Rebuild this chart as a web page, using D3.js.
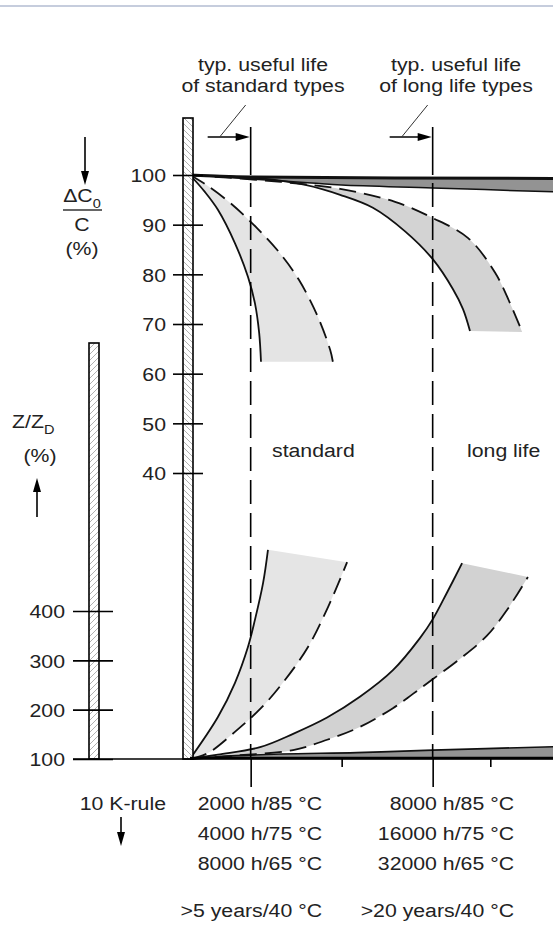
<!DOCTYPE html>
<html>
<head>
<meta charset="utf-8">
<script src="https://cdn.jsdelivr.net/npm/d3@7"></script>
<style>
  html, body { margin: 0; padding: 0; background: #fff; }
  svg { display: block; font-family: "Liberation Sans", Arial, sans-serif; }
</style>
</head>
<body>
<div id="chart"></div>
<script>
// time axis in 1000 h at 85 °C (10 K-rule)
const lifeMarks = [2, 8];        // typ. useful life: standard / long life
const minorTicks = [5, 9.9];

// capacitance change dC0/C in %
const capTicks = [100, 90, 80, 70, 60, 50, 40];
const capStdSolid  = [[0,100],[0.49,96.6],[0.92,93],[1.48,86.3],[1.91,79.5],[2.14,74.2],[2.28,68.2],[2.34,62.4]];
const capStdDashed = [[0,100],[0.49,98.2],[1.32,94.4],[2.21,89.3],[2.93,84.5],[3.59,78.9],[4.19,71.8],[4.62,64.8],[4.71,62.4]];
const capLongSolid  = [[0,100],[2.5,99.2],[3.8,98],[4.95,96],[6.03,93.4],[7.1,88.6],[8.01,83],[8.67,77],[9.0,73],[9.23,68.6]];
const capLongDashed = [[0,100],[3,98.6],[4.95,97.2],[6.76,94.6],[7.95,91.5],[9.17,87.3],[10.06,80.3],[10.55,74.2],[10.95,68.4]];
const capBandUpper = [[0,100],[2,99.6],[12,99.3]];
const capBandLower = [[0,100],[2,99.2],[4,98.4],[5,98],[8,97.4],[12,96.6]];

// impedance Z/Z0 in %
const zTicks = [100, 200, 300, 400];
const zStdSolid  = [[0,100],[0.92,185],[1.48,254],[1.91,327],[2.14,382],[2.41,457],[2.57,524]];
const zStdDashed = [[0,100],[0.59,112],[1.48,155],[2.37,205],[3.13,260],[3.89,327],[4.55,408],[5.18,499]];
const zLongSolid  = [[0,100],[0.92,109],[2.31,124],[3.4,151],[4.52,184],[5.6,226],[6.69,280],[7.58,345],[8.01,384],[8.47,437],[8.97,497]];
const zLongDashed = [[0,100],[1.5,107],[3.4,118],[4.52,139],[5.6,165],[6.69,203],[7.35,232],[8.01,262],[8.9,303],[9.79,350],[10.45,402],[11.14,469]];
const zBandUpper = [[0,100],[1,105],[3,110],[5.5,113],[8,118],[12,125]];
const zBandLower = [[0,100],[12,100]];

const bottomLeft  = ["2000 h/85 °C", "4000 h/75 °C", "8000 h/65 °C"];
const bottomRight = ["8000 h/85 °C", "16000 h/75 °C", "32000 h/65 °C"];
const yearsLabels = [">5 years/40 °C", ">20 years/40 °C"];

const width = 553, height = 933;
const SX = 1.12;      // the scan is a bit wider than the font
const FS = 19;
const ink = "#222";

const svg = d3.select("#chart").append("svg")
    .attr("width", width)
    .attr("height", height);

const x = d3.scaleLinear().domain([0, 12]).range([190, 554]);
const yC = d3.scaleLinear().domain([40, 100]).range([473, 175]);
const yZ = d3.scaleLinear().domain([100, 400]).range([759, 611]);

// hatching for the two scale bars
const defs = svg.append("defs");
function hatch(id, d) {
    defs.append("pattern")
        .attr("id", id)
        .attr("patternUnits", "userSpaceOnUse")
        .attr("width", 6).attr("height", 6)
        .append("path")
        .attr("d", d)
        .attr("stroke", "#a8a8a8")
        .attr("stroke-width", 0.9);
}
hatch("hatchBack", "M-1,-1L7,7M-1,5L1,7M5,-1L7,1");
hatch("hatchFwd", "M-1,7L7,-1M-1,1L1,-1M5,7L7,5");

function txt(g, px, py, s, anchor, size) {
    return g.append("text")
        .attr("transform", `translate(${px},${py}) scale(${SX},1)`)
        .attr("text-anchor", anchor || "start")
        .attr("font-size", size || FS)
        .attr("fill", ink)
        .text(s);
}

function arrow(g, x0, y0, x1, y1) {
    // line with a filled head at (x1, y1)
    const len = Math.hypot(x1 - x0, y1 - y0);
    const ux = (x1 - x0) / len, uy = (y1 - y0) / len;
    const hb = 14, hw = 4;
    g.append("line")
        .attr("x1", x0).attr("y1", y0)
        .attr("x2", x1 - ux * hb * 0.6).attr("y2", y1 - uy * hb * 0.6)
        .attr("stroke", "#000").attr("stroke-width", 1.6);
    const bx = x1 - ux * hb, by = y1 - uy * hb;
    g.append("polygon")
        .attr("points", [[x1, y1], [bx - uy * hw, by + ux * hw], [bx + uy * hw, by - ux * hw]].map(p => p.join(",")).join(" "))
        .attr("fill", "#000");
}

// frame line at the very top
svg.append("line")
    .attr("x1", 0).attr("x2", width).attr("y1", 6).attr("y2", 6)
    .attr("stroke", "#b3bdd2").attr("stroke-width", 1.5);

const smooth = d3.curveCatmullRom.alpha(0.5);
const lineC = d3.line().x(d => x(d[0])).y(d => yC(d[1])).curve(smooth);
const lineZ = d3.line().x(d => x(d[0])).y(d => yZ(d[1])).curve(smooth);

const shadeG = svg.append("g");
const curveG = svg.append("g");

// sample a drawn path, so two curves can close a shaded region
function samplePath(d) {
    const p = curveG.append("path").attr("d", d);
    const node = p.node();
    const L = node.getTotalLength();
    const pts = d3.range(0, 161).map(i => {
        const q = node.getPointAtLength(L * i / 160);
        return [q.x, q.y];
    });
    p.remove();
    return pts;
}

function shade(a, b, gen, fill) {
    const pa = samplePath(gen(a));
    const pb = samplePath(gen(b)).reverse();
    shadeG.append("path")
        .attr("d", "M" + pa.concat(pb).map(p => p.join(",")).join("L") + "Z")
        .attr("fill", fill);
}

shade(capStdSolid, capStdDashed, lineC, "#e4e4e4");
shade(capLongSolid, capLongDashed, lineC, "#d3d3d3");
shade(capBandUpper, capBandLower, lineC, "#939393");
shade(zStdSolid, zStdDashed, lineZ, "#e5e5e5");
shade(zLongSolid, zLongDashed, lineZ, "#d2d2d2");
shade(zBandUpper, zBandLower, lineZ, "#939393");

function curve(data, gen, dashed, w) {
    curveG.append("path")
        .attr("d", gen(data))
        .attr("fill", "none")
        .attr("stroke", "#111")
        .attr("stroke-width", w || 1.8)
        .attr("stroke-dasharray", dashed ? "17,8" : null);
}
curve(capStdSolid, lineC);
curve(capStdDashed, lineC, true);
curve(capLongSolid, lineC);
curve(capLongDashed, lineC, true);
curve(capBandUpper, lineC, false, 3);
curve(capBandLower, lineC, false, 1.5);
curve(zStdSolid, lineZ);
curve(zStdDashed, lineZ, true);
curve(zLongSolid, lineZ);
curve(zLongDashed, lineZ, true);
curve(zBandUpper, lineZ, false, 1.6);

// useful-life markers
const markG = svg.append("g");
lifeMarks.forEach(m => {
    const xm = x(m);
    markG.append("line")
        .attr("x1", xm).attr("x2", xm).attr("y1", 127).attr("y2", yC(100))
        .attr("stroke", "#000").attr("stroke-width", 1.6);
    markG.append("line")
        .attr("x1", xm).attr("x2", xm).attr("y1", yC(100) + 8).attr("y2", yZ(100))
        .attr("stroke", "#000").attr("stroke-width", 1.6)
        .attr("stroke-dasharray", "24,9");
    arrow(markG, xm - 43, 137, xm - 1, 137);
    markG.append("line")
        .attr("x1", xm - 31).attr("y1", 137).attr("x2", xm - 5).attr("y2", 105)
        .attr("stroke", "#333").attr("stroke-width", 1);
});

// scale bars
function bar(x0, x1, top, pat) {
    svg.append("rect")
        .attr("x", x0).attr("y", top).attr("width", x1 - x0).attr("height", yZ(100) - top)
        .attr("fill", "#fff");
    svg.append("rect")
        .attr("x", x0).attr("y", top).attr("width", x1 - x0).attr("height", yZ(100) - top)
        .attr("fill", `url(#${pat})`)
        .attr("stroke", "#000").attr("stroke-width", 1.6);
}
bar(183, 193, 118, "hatchBack");
bar(89, 99, 343, "hatchFwd");

// axes
function styleAxis(g, shift) {
    g.select(".domain").remove();
    g.selectAll(".tick line").attr("stroke", "#000").attr("stroke-width", 1.6);
    g.selectAll(".tick text")
        .attr("x", 0).attr("dy", "0.36em")
        .attr("transform", `translate(${shift},0) scale(${SX},1)`)
        .attr("fill", ink)
        .attr("font-size", FS)
        .attr("font-family", "Liberation Sans, Arial, sans-serif");
}
const capAxis = svg.append("g")
    .attr("transform", "translate(203,0)")
    .call(d3.axisLeft(yC).tickValues(capTicks).tickSize(30).tickPadding(7).tickFormat(d3.format("d")));
styleAxis(capAxis, -37);

const zAxis = svg.append("g")
    .attr("transform", "translate(113,0)")
    .call(d3.axisLeft(yZ).tickValues(zTicks).tickSize(40).tickPadding(8).tickFormat(d3.format("d")));
styleAxis(zAxis, -48);

// time axis
svg.append("line")
    .attr("x1", 73).attr("x2", width).attr("y1", yZ(100)).attr("y2", yZ(100))
    .attr("stroke", "#000").attr("stroke-width", 1.6);
svg.append("line")
    .attr("x1", x(0)).attr("x2", width).attr("y1", yZ(100) - 1).attr("y2", yZ(100) - 1)
    .attr("stroke", "#000").attr("stroke-width", 2.5);
const majorAxis = svg.append("g")
    .attr("transform", `translate(0,${yZ(100)})`)
    .call(d3.axisBottom(x).tickValues(lifeMarks).tickSize(28).tickFormat(""));
majorAxis.select(".domain").remove();
majorAxis.selectAll(".tick line").attr("stroke", "#000").attr("stroke-width", 1.6);
const minorAxis = svg.append("g")
    .attr("transform", `translate(0,${yZ(100)})`)
    .call(d3.axisBottom(x).tickValues(minorTicks).tickSize(8).tickFormat(""));
minorAxis.select(".domain").remove();
minorAxis.selectAll(".tick line").attr("stroke", "#000").attr("stroke-width", 1.6);

// labels
const lab = svg.append("g");
txt(lab, 263, 71, "typ. useful life", "middle");
txt(lab, 263, 92, "of standard types", "middle");
txt(lab, 456, 71, "typ. useful life", "middle");
txt(lab, 456, 92, "of long life types", "middle");

txt(lab, 272, 457, "standard");
txt(lab, 467, 457, "long life");

// dC0/C label
arrow(lab, 85, 137, 85, 185);
const dc = txt(lab, 82, 202, "", "middle");
dc.append("tspan").text("\u0394C");
dc.append("tspan").attr("font-size", 13).attr("dy", 6).text("0");
lab.append("line")
    .attr("x1", 63).attr("x2", 102).attr("y1", 210).attr("y2", 210)
    .attr("stroke", "#333").attr("stroke-width", 1.3);
txt(lab, 82, 231, "C", "middle");
txt(lab, 82, 255, "(%)", "middle");

// Z/Z0 label
const zz = txt(lab, 12, 428, "", "start");
zz.append("tspan").text("Z/Z");
zz.append("tspan").attr("font-size", 13).attr("dy", 6).text("D");
txt(lab, 40, 462, "(%)", "middle");
arrow(lab, 37, 517, 37, 478);

// bottom notes
txt(lab, 166, 810, "10 K-rule", "end");
arrow(lab, 121, 817, 121, 846);
bottomLeft.forEach((s, i) => txt(lab, 322, 810 + i * 30, s, "end"));
bottomRight.forEach((s, i) => txt(lab, 514, 810 + i * 30, s, "end"));
txt(lab, 322, 917, yearsLabels[0], "end");
txt(lab, 514, 917, yearsLabels[1], "end");
</script>
</body>
</html>
